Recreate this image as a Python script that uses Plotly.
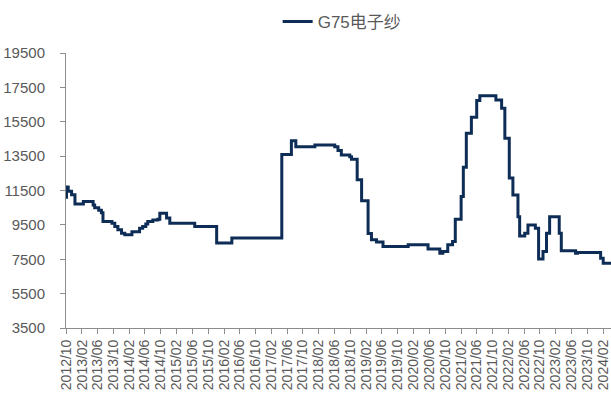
import plotly.graph_objects as go

# G75 electronic yarn price (yuan/ton): dates where the quoted price changes
change_dates = [
    "2012-10-01", "2012-10-05", "2012-10-18", "2012-11-13", "2012-12-09",
    "2013-02-12", "2013-04-28", "2013-05-10", "2013-06-10", "2013-07-01",
    "2013-07-13", "2013-09-20", "2013-10-12", "2013-11-05", "2013-12-03",
    "2013-12-28", "2014-02-21", "2014-04-21", "2014-05-15", "2014-06-08",
    "2014-06-23", "2014-08-01", "2014-09-09", "2014-09-24", "2014-11-15",
    "2014-12-10", "2015-06-20", "2015-12-06", "2016-04-01", "2017-04-21",
    "2017-07-04", "2017-08-07", "2018-01-01", "2018-06-03", "2018-06-28",
    "2018-07-24", "2018-09-27", "2018-10-10", "2018-11-23", "2018-12-27",
    "2019-02-15", "2019-03-13", "2019-04-21", "2019-06-10", "2019-12-21",
    "2020-05-22", "2020-08-21", "2020-09-13", "2020-10-21", "2020-11-27",
    "2020-12-18", "2021-02-01", "2021-02-18", "2021-03-13", "2021-04-21",
    "2021-06-01", "2021-06-25", "2021-10-27", "2021-12-10", "2022-01-04",
    "2022-02-07", "2022-03-07", "2022-04-15", "2022-04-28", "2022-06-06",
    "2022-07-01", "2022-08-27", "2022-09-21", "2022-10-25", "2022-11-21",
    "2022-12-15", "2023-02-27", "2023-03-15", "2023-07-03", "2023-07-18",
    "2024-01-12", "2024-02-01", "2024-04-01",
]
price = [
    11100, 11700, 11450, 11250, 10720,
    10860, 10660, 10490, 10350, 10200,
    9690, 9600, 9400, 9210, 9020,
    8920, 9100, 9310, 9400, 9550,
    9690, 9790, 9830, 10180, 9900,
    9600, 9400, 8450, 8730, 13600,
    14400, 14050, 14150, 14050, 13820,
    13570, 13470, 13320, 12120, 10910,
    9000, 8630, 8500, 8240, 8340,
    8100, 7850, 7950, 8340, 8530,
    9830, 11150, 12850, 14830, 15760,
    16730, 17020, 16770, 16280, 14540,
    12220, 11240, 9980, 8860, 9020,
    9500, 9310, 7520, 7950, 9020,
    9980, 9020, 8000, 7850, 7900,
    7560, 7270, 7270,
]

# x ticks every four months
tick_dates = []
tick_text = []
y, m = 2012, 10
while (y, m) <= (2024, 2):
    tick_dates.append(f"{y}-{m:02d}-01")
    tick_text.append(f"{y}/{m:02d}")
    m += 4
    if m > 12:
        m -= 12
        y += 1

y_ticks = [3500, 5500, 7500, 9500, 11500, 13500, 15500, 17500, 19500]

AXIS_GREY = "#8c8c8c"
TEXT_GREY = "#595959"
FONT = "Liberation Sans, Arial, Noto Sans CJK SC, sans-serif"

fig = go.Figure()
fig.add_trace(go.Scatter(
    x=change_dates,
    y=price,
    mode="lines",
    name="G75电子纱",
    line=dict(color="#0e2d56", width=3, shape="hv"),
))

fig.update_layout(
    width=611,
    height=405,
    margin=dict(l=66, r=0, t=53, b=77),
    paper_bgcolor="white",
    plot_bgcolor="white",
    font=dict(family=FONT, color=TEXT_GREY, size=14),
    showlegend=True,
    legend=dict(
        orientation="h",
        xref="container", yref="container",
        x=0.56, y=0.946,
        xanchor="center", yanchor="middle",
        font=dict(size=17, color=TEXT_GREY),
        bgcolor="rgba(0,0,0,0)",
    ),
    xaxis=dict(
        type="date",
        range=["2012-10-01", "2024-04-01"],
        tickmode="array",
        tickvals=tick_dates,
        ticktext=tick_text,
        tickangle=-90,
        ticks="outside",
        ticklen=5,
        tickcolor=AXIS_GREY,
        showline=True,
        linecolor=AXIS_GREY,
        linewidth=1,
        showgrid=False,
        zeroline=False,
        tickfont=dict(size=14, color=TEXT_GREY),
    ),
    yaxis=dict(
        range=[3500, 19500],
        tickmode="array",
        tickvals=y_ticks,
        ticktext=[str(v) for v in y_ticks],
        ticks="outside",
        ticklen=5,
        tickcolor=AXIS_GREY,
        showline=True,
        linecolor=AXIS_GREY,
        linewidth=1,
        showgrid=False,
        zeroline=False,
        tickfont=dict(size=15, color=TEXT_GREY),
        ticklabelstandoff=12,
    ),
)

fig.write_html("out.html")
